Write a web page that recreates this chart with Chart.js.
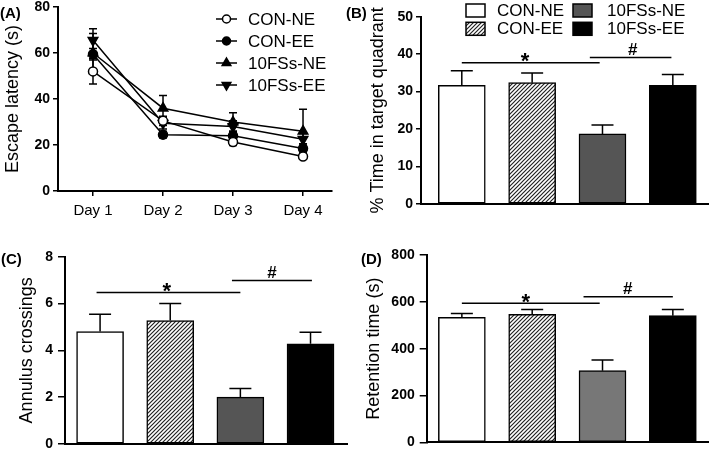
<!DOCTYPE html>
<html>
<head>
<meta charset="utf-8">
<script src="https://cdn.jsdelivr.net/npm/chart.js@4.4.1/dist/chart.umd.min.js"></script>
<style>
  html, body { margin: 0; padding: 0; background: #fff; }
  #page { position: relative; width: 709px; height: 449px; overflow: hidden; font-family: "Liberation Sans", Arial, sans-serif; }
  .panel { position: absolute; }
  .panel canvas { display: block; }
  .tag { position: absolute; font-weight: bold; font-size: 15px; line-height: 15px; color: #000; }
</style>
</head>
<body>
<div id="page">
  <div class="panel" style="left:0;top:0"><canvas id="chartA" width="345" height="225"></canvas></div>
  <div class="panel" style="left:360px;top:0"><canvas id="chartB" width="349" height="225"></canvas></div>
  <div class="panel" style="left:0;top:225px"><canvas id="chartC" width="355" height="224"></canvas></div>
  <div class="panel" style="left:360px;top:225px"><canvas id="chartD" width="349" height="224"></canvas></div>
  <div class="tag" style="left:0;top:5px">(A)</div>
  <div class="tag" style="left:346px;top:5px">(B)</div>
  <div class="tag" style="left:1px;top:251px">(C)</div>
  <div class="tag" style="left:361px;top:251px">(D)</div>
</div>
<script>
// groups and days
const groups = ['CON-NE', 'CON-EE', '10FSs-NE', '10FSs-EE'];
const days = ['Day 1', 'Day 2', 'Day 3', 'Day 4'];

// (A) escape latency (s), mean and SEM per day
const latConNE = [52, 30.5, 21.3, 15];
const latConEE = [59.5, 24.5, 24, 18.5];
const lat10NE = [60, 36, 30, 26];
const lat10EE = [65.5, 29.5, 28, 22.5];
const latErrConNE = [5.5, 2, 1.5, 1.2];
const latErrConEE = [2.5, 1.5, 2, 2];
const latErr10NE = [8.5, 5.5, 4, 9.5];
const latErr10EE = [5, 2.5, 2.5, 2.5];

// (B) % time in target quadrant
const quadTime = [31.7, 32.4, 18.7, 31.7];
const quadErr = [3.9, 2.6, 2.4, 2.9];

// (C) annulus crossings
const crossings = [4.8, 5.27, 2.0, 4.28];
const crossErr = [0.74, 0.73, 0.37, 0.49];

// (D) retention time (s)
const retention = [534, 547, 306, 541];
const retentionErr = [16, 20, 46, 26];

// significance bars: group index range and height in data units
const sigB = [
    { text: '*', from: 0, to: 1.96, at: 0.9, y: 37.7 },
    { text: '#', from: 1.82, to: 2.98, at: 2.43, y: 39.1 }
];
const sigC = [
    { text: '*', from: -0.05, to: 2.0, at: 0.95, y: 6.47 },
    { text: '#', from: 1.88, to: 3.02, at: 2.45, y: 6.98 }
];
const sigD = [
    { text: '*', from: 0, to: 1.96, at: 0.91, y: 594 },
    { text: '#', from: 1.73, to: 3.0, at: 2.36, y: 622 }
];

const FONT = '"Liberation Sans", Arial, sans-serif';
Chart.defaults.font.family = FONT;
Chart.defaults.color = '#000';

/**
 * Fixe la largeur d'un axe vertical
 */
function fixWidth(w) {
    return function (scale) {
        scale.width = w;
        scale.paddingTop = 0;
        scale.paddingBottom = 0;
    };
}

/**
 * Fixe la hauteur d'un axe horizontal
 */
function fixHeight(h) {
    return function (scale) {
        scale.height = h;
        scale.paddingLeft = 0;
        scale.paddingRight = 0;
    };
}

function makeHatch(ctx) {
    const tile = document.createElement('canvas');
    tile.width = 4;
    tile.height = 4;
    const g = tile.getContext('2d');
    g.fillStyle = '#fff';
    g.fillRect(0, 0, 4, 4);
    g.strokeStyle = '#222';
    g.lineWidth = 1.2;
    g.beginPath();
    g.moveTo(0, 4); g.lineTo(4, 0);
    g.moveTo(-1, 1); g.lineTo(1, -1);
    g.moveTo(3, 5); g.lineTo(5, 3);
    g.stroke();
    return ctx.createPattern(tile, 'repeat');
}

function drawErrors(chart, opts) {
    const ctx = chart.ctx;
    const yScale = chart.scales.y;
    ctx.save();
    ctx.strokeStyle = '#000';
    ctx.lineWidth = opts.lineWidth;
    chart.data.datasets.forEach(function (ds, di) {
        const meta = chart.getDatasetMeta(di);
        ds.errors.forEach(function (err, i) {
            const pt = meta.data[i];
            const v = ds.data[i].y;
            const top = yScale.getPixelForValue(v + err);
            const bottom = opts.both ? yScale.getPixelForValue(v - err) : pt.y;
            ctx.beginPath();
            ctx.moveTo(pt.x, top);
            ctx.lineTo(pt.x, bottom);
            ctx.moveTo(pt.x - opts.cap, top);
            ctx.lineTo(pt.x + opts.cap, top);
            if (opts.both) {
                ctx.moveTo(pt.x - opts.cap, bottom);
                ctx.lineTo(pt.x + opts.cap, bottom);
            }
            ctx.stroke();
        });
    });
    ctx.restore();
}

const errorBarPlugin = {
    id: 'errorBars',
    beforeDatasetsDraw(chart, args, opts) {
        if (opts.under) drawErrors(chart, opts);
    },
    afterDatasetsDraw(chart, args, opts) {
        if (!opts.under) drawErrors(chart, opts);
    }
};

const sigPlugin = {
    id: 'sigLines',
    afterDatasetsDraw(chart, args, opts) {
        const ctx = chart.ctx;
        const xs = chart.scales.x;
        const ys = chart.scales.y;
        ctx.save();
        ctx.strokeStyle = '#000';
        ctx.fillStyle = '#000';
        ctx.lineWidth = 1.5;
        opts.marks.forEach(function (m) {
            const y = ys.getPixelForValue(m.y);
            ctx.beginPath();
            ctx.moveTo(xs.getPixelForValue(m.from), y);
            ctx.lineTo(xs.getPixelForValue(m.to), y);
            ctx.stroke();
            const star = m.text === '*';
            ctx.font = star ? 'bold 22px ' + FONT : 'bold 17px ' + FONT;
            ctx.textAlign = 'center';
            ctx.textBaseline = 'alphabetic';
            ctx.fillText(m.text, xs.getPixelForValue(m.at), y + (star ? 5.5 : -3));
        });
        ctx.restore();
    }
};

// legende du graphique en lignes (A)
const lineLegendPlugin = {
    id: 'lineLegend',
    afterDraw(chart, args, opts) {
        const ctx = chart.ctx;
        ctx.save();
        ctx.font = '17px ' + FONT;
        ctx.textBaseline = 'middle';
        ctx.textAlign = 'left';
        chart.data.datasets.forEach(function (ds, i) {
            const y = opts.y + i * opts.step;
            ctx.strokeStyle = '#000';
            ctx.lineWidth = 1.5;
            ctx.beginPath();
            ctx.moveTo(opts.x, y);
            ctx.lineTo(opts.x + 21, y);
            ctx.stroke();
            ctx.fillStyle = ds.pointBackgroundColor;
            Chart.helpers.drawPoint(ctx, {
                pointStyle: ds.pointStyle,
                rotation: ds.pointRotation || 0,
                radius: ds.pointRadius - 0.5,
                borderWidth: 1.5
            }, opts.x + 10.5, y);
            ctx.fillStyle = '#000';
            ctx.fillText(ds.label, opts.x + 32, y + 1);
        });
        ctx.restore();
    }
};

// legende des barres (B)
const boxLegendPlugin = {
    id: 'boxLegend',
    afterDraw(chart, args, opts) {
        const ctx = chart.ctx;
        ctx.save();
        ctx.font = '17px ' + FONT;
        ctx.textBaseline = 'middle';
        ctx.textAlign = 'left';
        groups.forEach(function (g, i) {
            const col = Math.floor(i / 2);
            const row = i % 2;
            const x = opts.cols[col];
            const y = opts.y + row * opts.step;
            ctx.fillStyle = opts.fills[i];
            ctx.fillRect(x, y - 6.5, 19, 13);
            ctx.strokeStyle = '#000';
            ctx.lineWidth = 1.5;
            ctx.strokeRect(x, y - 6.5, 19, 13);
            ctx.fillStyle = '#000';
            ctx.fillText(g, x + opts.textGap[col], y + 1);
        });
        ctx.restore();
    }
};

function toPoints(values) {
    return values.map(function (v, i) {
        return { x: i + 1, y: v };
    });
}

function yAxis(opts) {
    return {
        min: 0,
        max: opts.max,
        ticks: { stepSize: opts.step, font: { size: 14, weight: 'bold' }, padding: opts.pad, color: '#000' },
        grid: { drawOnChartArea: false, tickLength: opts.tick, color: '#000', lineWidth: 1.5 },
        border: { color: '#000', width: 2 },
        title: { display: true, text: opts.title, font: { size: 18 }, color: '#000', padding: { top: opts.titlePad, bottom: 0 } },
        afterFit: fixWidth(opts.width)
    };
}

// (A) latence
new Chart(document.getElementById('chartA'), {
    type: 'line',
    data: {
        datasets: [{
            label: groups[0],
            data: toPoints(latConNE),
            errors: latErrConNE,
            pointStyle: 'circle',
            pointRadius: 4.5,
            pointBackgroundColor: '#fff'
        }, {
            label: groups[1],
            data: toPoints(latConEE),
            errors: latErrConEE,
            pointStyle: 'circle',
            pointRadius: 4.5,
            pointBackgroundColor: '#000'
        }, {
            label: groups[2],
            data: toPoints(lat10NE),
            errors: latErr10NE,
            pointStyle: 'triangle',
            pointRadius: 5.5,
            pointBackgroundColor: '#000'
        }, {
            label: groups[3],
            data: toPoints(lat10EE),
            errors: latErr10EE,
            pointStyle: 'triangle',
            pointRotation: 180,
            pointRadius: 5.5,
            pointBackgroundColor: '#000'
        }].map(function (ds) {
            return Object.assign({
                borderColor: '#000',
                borderWidth: 1.5,
                pointBorderColor: '#000',
                pointBorderWidth: 1.5,
                tension: 0
            }, ds);
        })
    },
    options: {
        responsive: false,
        animation: false,
        layout: { padding: { top: 6, right: 13, left: 0, bottom: 0 } },
        plugins: {
            legend: { display: false },
            tooltip: { enabled: false },
            errorBars: { under: true, both: true, cap: 4, lineWidth: 1.5 },
            lineLegend: { x: 216, y: 19, step: 22 }
        },
        scales: {
            x: {
                type: 'linear',
                min: 0.5,
                max: 4.414,
                afterBuildTicks: function (scale) {
                    scale.ticks = days.map(function (d, i) { return { value: i + 1 }; });
                },
                ticks: {
                    callback: function (v) { return days[v - 1]; },
                    font: { size: 15 },
                    padding: 6,
                    maxRotation: 0,
                    autoSkip: false,
                    color: '#000'
                },
                grid: { drawOnChartArea: false, tickLength: 5, color: '#000', lineWidth: 1.5 },
                border: { color: '#000', width: 2 },
                afterFit: fixHeight(34)
            },
            y: yAxis({ max: 80, step: 20, pad: 3, tick: 5, title: 'Escape latency (s)', titlePad: 2.2, width: 58 })
        }
    },
    plugins: [errorBarPlugin, lineLegendPlugin]
});

function barChart(id, cfg) {
    const canvas = document.getElementById(id);
    const hatch = makeHatch(canvas.getContext('2d'));
    const fills = ['#fff', hatch, cfg.gray, '#000'];
    const plugins = [errorBarPlugin, sigPlugin];
    if (cfg.legend) plugins.push(boxLegendPlugin);
    return new Chart(canvas, {
        type: 'bar',
        data: {
            datasets: [{
                data: cfg.values.map(function (v, i) { return { x: i, y: v }; }),
                errors: cfg.errors,
                backgroundColor: fills,
                borderColor: '#000',
                borderWidth: 1.5,
                borderSkipped: false,
                barThickness: 47
            }]
        },
        options: {
            responsive: false,
            animation: false,
            layout: { padding: { top: cfg.top, right: cfg.right, left: 0, bottom: 0 } },
            plugins: {
                legend: { display: false },
                tooltip: { enabled: false },
                errorBars: { under: false, both: false, cap: 11, lineWidth: 1.5 },
                sigLines: { marks: cfg.sig },
                boxLegend: { cols: [106, 213], textGap: [31, 34], y: 10.5, step: 18.3, fills: fills }
            },
            scales: {
                x: {
                    type: 'linear',
                    min: cfg.xmin,
                    max: cfg.xmax,
                    offset: false,
                    ticks: { display: false },
                    grid: { display: false },
                    border: { color: '#000', width: 2 },
                    afterFit: fixHeight(cfg.bottom)
                },
                y: yAxis({ max: cfg.max, step: cfg.step, pad: cfg.pad, tick: cfg.tick, title: cfg.title, titlePad: cfg.titlePad, width: cfg.left })
            }
        },
        plugins: plugins
    });
}

// (B) temps dans le quadrant cible
barChart('chartB', {
    values: quadTime, errors: quadErr, sig: sigB, gray: '#555', legend: true,
    max: 50, step: 10, title: '% Time in target quadrant',
    left: 61, top: 16.7, right: 1, bottom: 21, xmin: -0.58, xmax: 3.5,
    pad: 3, tick: 5, titlePad: 7.5
});

// (C) passages sur l'anneau
barChart('chartC', {
    values: crossings, errors: crossErr, sig: sigC, gray: '#555', legend: false,
    max: 8, step: 2, title: 'Annulus crossings',
    left: 65, top: 31.7, right: 8, bottom: 5, xmin: -0.5, xmax: 3.52,
    pad: 5, tick: 7, titlePad: 16.7
});

// (D) temps de retention
barChart('chartD', {
    values: retention, errors: retentionErr, sig: sigD, gray: '#777', legend: false,
    max: 800, step: 200, title: 'Retention time (s)',
    left: 66.7, top: 30, right: 1, bottom: 6.7, xmin: -0.5, xmax: 3.5,
    pad: 5, tick: 7, titlePad: 3.7
});
</script>
</body>
</html>
